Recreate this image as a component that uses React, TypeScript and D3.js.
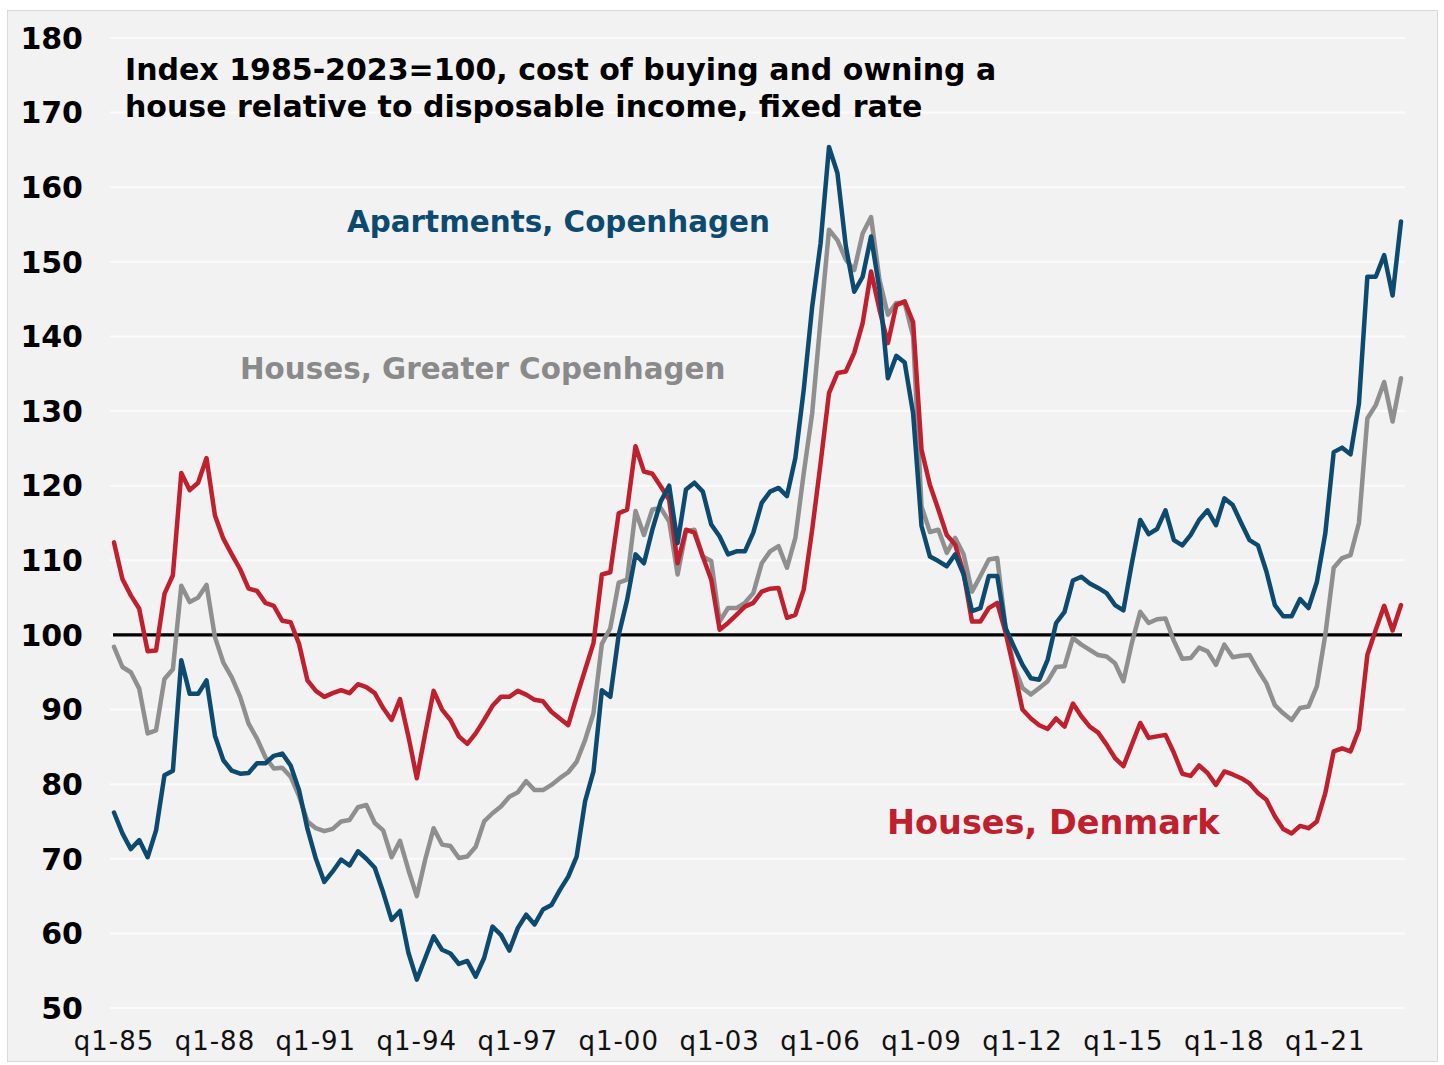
import React from "react";
import * as d3 from "d3";

// Quarterly, q1-85 .. q2-23
const startYear = 1985;
const nQuarters = 154;

const housesDenmark: number[] = [
  112.4, 107.5, 105.3, 103.5, 97.8, 97.9, 105.5, 108, 121.7, 119.4,
  120.4, 123.7, 116, 112.9, 110.8, 108.8, 106.2, 105.9, 104.3, 103.9,
  101.9, 101.7, 98.8, 93.9, 92.5, 91.7, 92.2, 92.6, 92.2, 93.4,
  93, 92.2, 90.2, 88.6, 91.4, 86.4, 80.8, 86.8, 92.5, 90,
  88.6, 86.4, 85.4, 86.8, 88.6, 90.5, 91.7, 91.7, 92.5, 92,
  91.3, 91.1, 89.7, 88.8, 87.9, 91.7, 95.3, 98.9, 108.1, 108.4,
  116.3, 116.8, 125.3, 121.9, 121.6, 119.9, 118.1, 109.6, 114.1, 113.7,
  110.5, 107.4, 100.7, 101.6, 102.7, 103.8, 104.3, 105.8, 106.2, 106.3,
  102.3, 102.7, 106.1, 114.1, 123, 132.4, 135.1, 135.3, 137.8, 141.8,
  148.7, 143.6, 139.1, 144.2, 144.7, 141.9, 124.8, 120.1, 116.8, 113.4,
  112.1, 108.3, 101.8, 101.8, 103.6, 104.3, 100.3, 95.3, 90, 88.8,
  87.9, 87.4, 88.8, 87.7, 90.8, 89.1, 87.7, 86.9, 85.3, 83.5,
  82.4, 85.3, 88.2, 86.2, 86.4, 86.6, 84.2, 81.4, 81.1, 82.5,
  81.5, 79.9, 81.7, 81.3, 80.8, 80.1, 78.8, 77.9, 75.7, 74,
  73.4, 74.4, 74.1, 75, 78.8, 84.4, 84.8, 84.4, 87.3, 97.3,
  100.7, 103.9, 100.6, 104,
];

const housesGreaterCph: number[] = [
  98.4, 95.7, 95, 92.8, 86.8, 87.2, 94.1, 95.4, 106.6, 104.4,
  105, 106.7, 99.7, 96.3, 94.3, 91.7, 88.1, 86.1, 83.6, 82.1,
  82.2, 81, 78.4, 75, 74.1, 73.7, 74, 75, 75.2, 76.9,
  77.2, 74.8, 73.8, 70.2, 72.4, 68.5, 65, 69.9, 74.1, 71.9,
  71.7, 70.1, 70.3, 71.6, 75, 76.1, 77, 78.3, 78.9, 80.4,
  79.2, 79.2, 79.9, 80.8, 81.6, 83, 85.9, 89.5, 98.8, 100.9,
  107, 107.4, 116.6, 113.4, 116.8, 117, 115.2, 108.1, 113.9, 114.1,
  110.5, 109.9, 101.8, 103.6, 103.6, 104.3, 105.6, 109.6, 111.2, 111.9,
  109, 113, 121.7, 129.7, 142.2, 154.3, 152.9, 150.3, 148.9, 153.8,
  156, 147.6, 142.9, 144.5, 144.5, 140, 117.2, 113.8, 114.1, 111,
  113, 110.8, 105.8, 107.9, 110.1, 110.3, 100.9, 95.8, 92.9, 92,
  92.9, 93.8, 95.7, 95.8, 99.6, 98.7, 98, 97.3, 97.1, 96.2,
  93.8, 98.9, 103.1, 101.6, 102.1, 102.2, 99.2, 96.8, 96.9, 98.3,
  97.8, 96, 98.7, 97, 97.2, 97.3, 95.3, 93.5, 90.6, 89.5,
  88.6, 90.2, 90.4, 93.1, 100, 109, 110.3, 110.7, 115, 129,
  130.8, 133.9, 128.6, 134.4,
];

const apartmentsCph: number[] = [
  76.2, 73.4, 71.3, 72.5, 70.2, 73.8, 81.2, 81.8, 96.6, 92.1,
  92.1, 93.9, 86.5, 83.2, 81.8, 81.4, 81.5, 82.8, 82.8, 83.8,
  84.1, 82.5, 79.2, 74, 70, 66.9, 68.3, 69.9, 69.1, 71,
  70, 68.8, 65.5, 61.8, 63, 57.4, 53.8, 56.7, 59.6, 57.8,
  57.3, 55.9, 56.3, 54.2, 56.7, 60.9, 59.8, 57.7, 60.7, 62.5,
  61.2, 63.2, 63.8, 65.8, 67.6, 70.3, 77.7, 81.7, 92.6, 91.7,
  100, 104.7, 110.8, 109.6, 114.1, 117.9, 120, 112.3, 119.5, 120.4,
  119.2, 114.8, 113.2, 110.8, 111.2, 111.2, 113.7, 117.7, 119.2, 119.7,
  118.6, 123.7, 132.9, 144, 152.5, 165.4, 161.9, 152.1, 146, 148,
  153.4, 146.3, 134.4, 137.4, 136.5, 129.7, 114.6, 110.5, 109.9, 109.2,
  110.8, 108.1, 103.2, 103.6, 107.9, 107.9, 100.9, 98.4, 96, 94.2,
  94, 96.7, 101.6, 103.1, 107.3, 107.8, 106.9, 106.3, 105.6, 104,
  103.3, 109.6, 115.4, 113.5, 114.2, 116.7, 112.7, 112, 113.4, 115.4,
  116.7, 114.7, 118.3, 117.4, 115, 112.7, 112, 108.5, 104, 102.5,
  102.5, 104.8, 103.6, 107.1, 113.6, 124.5, 125.1, 124.2, 131, 148,
  148, 150.9, 145.5, 155.4,
];

const yTicks: number[] = [50, 60, 70, 80, 90, 100, 110, 120, 130, 140, 150, 160, 170, 180];
const xTickEvery = 12;
const titleLines: string[] = [
  "Index 1985-2023=100, cost of buying and owning a",
  "house relative to disposable income, fixed rate",
];

const seriesInfo = [
  { name: "Houses, Greater Copenhagen", values: housesGreaterCph, color: "#8f8f8f", labelColor: "#8a8a8a" },
  { name: "Houses, Denmark", values: housesDenmark, color: "#c0202e", labelColor: "#c0202e" },
  { name: "Apartments, Copenhagen", values: apartmentsCph, color: "#0d4a70", labelColor: "#0d4a70" },
];

const quarterLabel = (i: number) => {
  const year = startYear + Math.floor(i / 4);
  return `q${(i % 4) + 1}-${String(year % 100).padStart(2, "0")}`;
};

export default function App() {
  const W = 1444;
  const H = 1065;
  const x = d3.scaleLinear().domain([0, nQuarters - 1]).range([114, 1401]);
  const y = d3.scaleLinear().domain([50, 180]).range([1008, 38]);
  const line = d3
    .line<number>()
    .x((_, i) => x(i))
    .y((v) => y(v));

  const xTickIdx = d3.range(0, nQuarters, xTickEvery);
  const font = "'DejaVu Sans', Verdana, sans-serif";

  const labelPos: Record<string, { x: number; y: number; size: number }> = {
    "Apartments, Copenhagen": { x: 347, y: 232, size: 29.4 },
    "Houses, Greater Copenhagen": { x: 240, y: 379, size: 29.4 },
    "Houses, Denmark": { x: 887, y: 834, size: 33.5 },
  };

  return (
    <svg
      width={W}
      height={H}
      style={{ position: "absolute", left: 0, top: 0, display: "block", background: "#ffffff" }}
    >
      <rect x={7.5} y={10.5} width={1430} height={1051} fill="#f2f2f2" stroke="#d9d9d9" strokeWidth={1} />
      {yTicks.map((t) => (
        <line key={"g" + t} x1={110} x2={1405} y1={y(t)} y2={y(t)} stroke="#fbfbfb" strokeWidth={2} />
      ))}
      {yTicks.map((t) => (
        <text
          key={"yl" + t}
          x={83}
          y={y(t)}
          dy="0.36em"
          textAnchor="end"
          fontFamily={font}
          fontWeight="bold"
          fontSize={30}
          fill="#000"
        >
          {t}
        </text>
      ))}
      {xTickIdx.map((i) => (
        <text
          key={"xl" + i}
          x={x(i)}
          y={1050}
          textAnchor="middle"
          fontFamily={font}
          fontSize={26}
          letterSpacing={1}
          fill="#111"
        >
          {quarterLabel(i)}
        </text>
      ))}
      <line x1={x(0) - 1} x2={x(nQuarters - 1) + 1} y1={y(100)} y2={y(100)} stroke="#000" strokeWidth={3.2} />
      {seriesInfo.map((s) => (
        <path
          key={s.name}
          d={line(s.values) || ""}
          fill="none"
          stroke={s.color}
          strokeWidth={4.5}
          strokeLinejoin="round"
          strokeLinecap="round"
        />
      ))}
      {titleLines.map((t, k) => (
        <text key={"t" + k} x={125} y={80 + k * 37} fontFamily={font} fontWeight="bold" fontSize={30} fill="#000">
          {t}
        </text>
      ))}
      {seriesInfo.map((s) => {
        const p = labelPos[s.name];
        return (
          <text
            key={"lab" + s.name}
            x={p.x}
            y={p.y}
            fontFamily={font}
            fontWeight="bold"
            fontSize={p.size}
            fill={s.labelColor}
          >
            {s.name}
          </text>
        );
      })}
    </svg>
  );
}
